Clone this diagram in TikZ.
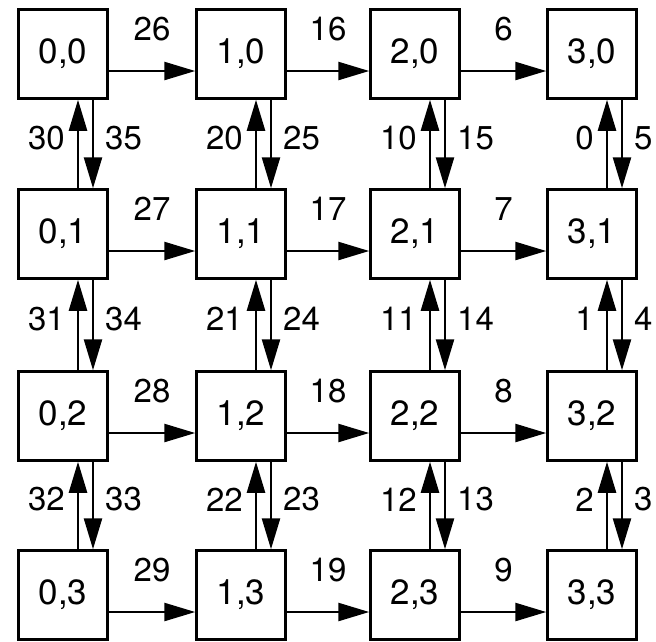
\documentclass[tikz,border=0pt]{standalone}
\usepackage{fontspec}
\setmainfont{TeX Gyre Heros}
\usetikzlibrary{arrows.meta}
\begin{document}
\begin{tikzpicture}[x=1pt,y=-1pt,
  cell/.style={draw,line width=3pt,minimum size=88.5pt,inner sep=0pt,font=\fontsize{35}{40}\selectfont},
  arr/.style={line width=2.5pt,-{Triangle[length=31pt,width=18pt]}},
  lab/.style={inner sep=0pt,font=\fontsize{33}{38}\selectfont}]
\useasboundingbox[fill=white] (0,0) rectangle (656,641);
\foreach \c/\x in {0/63,1/241,2/415,3/592}
  \foreach \r/\y in {0/54,1/234,2/416,3/595}
    \node[cell] (n\c\r) at (\x,\y) {\c,\r};
% horizontal connectors
\foreach \c/\d/\b in {0/1/26,1/2/16,2/3/6}
  \foreach \r in {0,...,3}{
    \pgfmathtruncatemacro\v{\b+\r}
    \draw[arr] ([yshift=-17pt]n\c\r.east) -- ([yshift=-17pt]n\d\r.west);
    \path (n\c\r.east) -- (n\d\r.west) node[midway,lab,yshift=25pt]{\v};
  }
% vertical connectors
\foreach \c in {0,...,3}
  \foreach \r/\s in {0/1,1/2,2/3}{
    \pgfmathtruncatemacro\u{(3-\c)*10+\r}
    \pgfmathtruncatemacro\w{(3-\c)*10+5-\r}
    \draw[arr] ([xshift=15pt]n\c\s.north) -- ([xshift=15pt]n\c\r.south);
    \draw[arr] ([xshift=30pt]n\c\r.south) -- ([xshift=30pt]n\c\s.north);
    \path ([xshift=15pt]n\c\r.south) -- ([xshift=15pt]n\c\s.north)
      node[pos=0.43,lab,anchor=east,xshift=-13pt]{\u};
    \path ([xshift=30pt]n\c\r.south) -- ([xshift=30pt]n\c\s.north)
      node[pos=0.43,lab,anchor=west,xshift=12pt]{\w};
  }
\end{tikzpicture}
\end{document}
